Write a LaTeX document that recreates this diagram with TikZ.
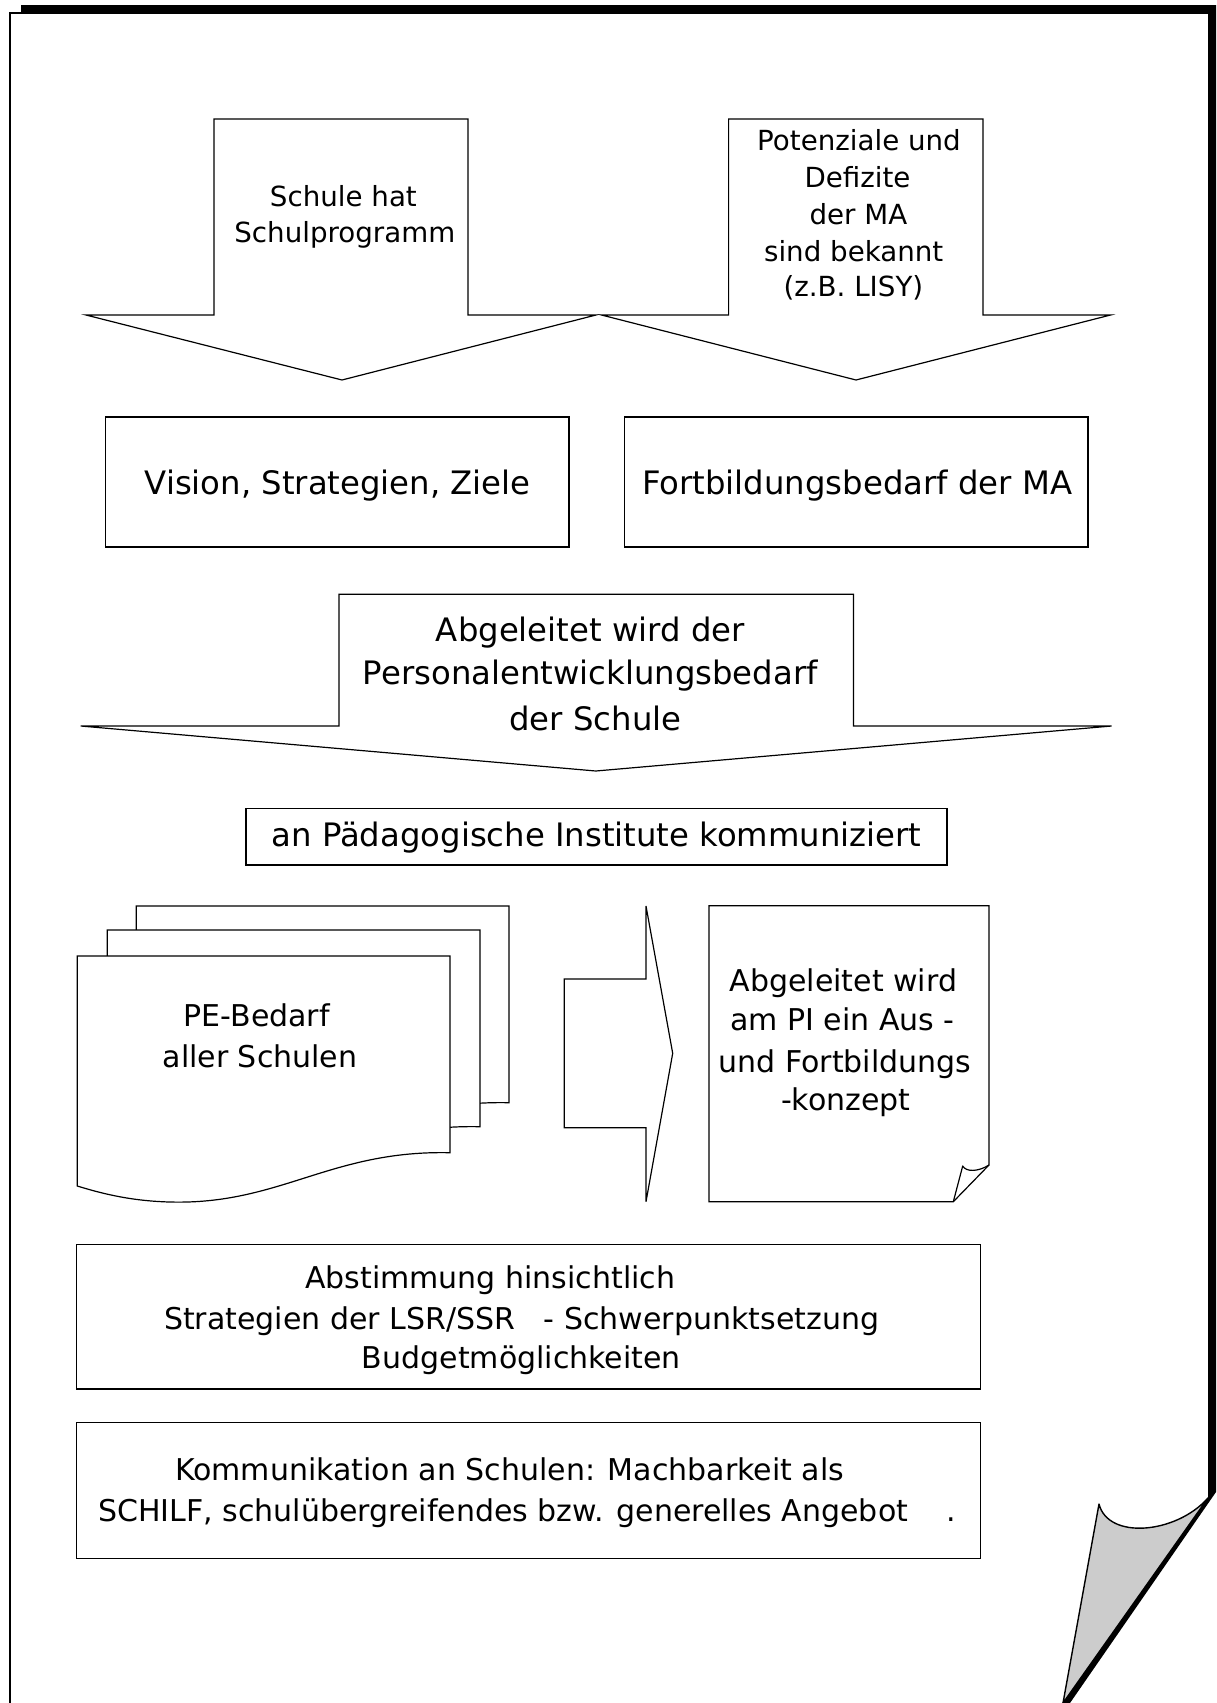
\documentclass[tikz,border=0pt]{standalone}
\usepackage{fontspec}
\setmainfont{DejaVu Sans}
\begin{document}
\begin{tikzpicture}[x=0.5pt,y=-0.5pt,
  outline/.style={draw=black, line width=0.6pt, fill=white, line join=miter},
  small/.style={font=\fontsize{13.85}{17}\selectfont, inner sep=0pt, anchor=base},
  medium/.style={font=\fontsize{15}{18}\selectfont, inner sep=0pt, anchor=base},
  large/.style={font=\fontsize{16.15}{20}\selectfont, inner sep=0pt, anchor=base},
]
\useasboundingbox (0,0) rectangle (1216,1703);
\clip (0,0) rectangle (1216,1703);

% sheet of paper with its drop shadow
\fill[black] (21,5) -- (1216,5) -- (1216,1492) -- (1070,1703) -- (21,1703) -- cycle;
\fill[white] (10,13) -- (1209,13) -- (1209,1497) -- (1063,1703) -- (10,1703) -- cycle;
\draw[line width=0.8pt] (10,1703) -- (10,13) -- (1209,13) -- (1209,1497) -- (1063,1703);
% curled corner
\filldraw[fill=black!20, line width=0.7pt, line join=round]
  (1099,1504) .. controls (1108,1540) and (1176,1534) .. (1208,1498) -- (1063,1703) -- cycle;

% two block arrows at the top
\draw[outline] (214,119) -- (468,119) -- (468,315) -- (596,315) -- (342,380)
  -- (86,315) -- (214,315) -- cycle;
\draw[outline] (728.6,119) -- (983,119) -- (983,315) -- (1110.6,315) -- (856,380)
  -- (601.5,315) -- (728.6,315) -- cycle;
\node[small] (schule1) at (343.4,206) {Schule hat};
\node[small] (schule2) at (344.8,242.7) {Schulprogramm};
\node[small] (pot1) at (859,150) {Potenziale und};
\node[small] (pot2) at (857.5,187.3) {Defizite};
\node[small] (pot3) at (858.4,224.3) {der MA};
\node[small] (pot4) at (853.7,261.7) {sind bekannt};
\node[small] (pot5) at (853.4,296.7) {(z.B. LISY)};

% two boxes
\draw[outline] (105.3,417) rectangle (569,547);
\draw[outline] (624.3,417) rectangle (1088,547);
\node[large] (vision) at (337.7,494) {Vision, Strategien, Ziele};
\node[large] (fbbedarf) at (857.2,494) {Fortbildungsbedarf der MA};

% wide block arrow
\draw[outline] (339,594.3) -- (853.4,594.3) -- (853.4,726) -- (1111.6,726) -- (595.8,771)
  -- (80.7,726) -- (339,726) -- cycle;
\node[large] (abg1) at (590.3,641.7) {Abgeleitet wird der};
\node[large] (abg2) at (590.3,684.5) {Personalentwicklungsbedarf};
\node[large] (abg3) at (595.4,730) {der Schule};

% institute box
\draw[outline] (246,808.3) rectangle (947,865);
\node[large] (pi) at (596.5,846.7) {an Pädagogische Institute kommuniziert};

% stack of documents
\foreach \dx/\dy in {59/-50, 30/-26, 0/0}{
  \begin{scope}[shift={(\dx,\dy)}]
    \draw[outline] (77.3,956) -- (450,956) -- (450,1152.7)
      .. controls (330,1150) and (280,1205) .. (170,1202)
      .. controls (130,1201) and (100,1193) .. (77.3,1186) -- cycle;
  \end{scope}
}
\node[medium] (pe1) at (256.7,1026.7) {PE-Bedarf};
\node[medium] (pe2) at (260,1067.7) {aller Schulen};

% block arrow to the right
\draw[outline] (564.3,979) -- (646,979) -- (646,906) -- (672.7,1053.3) -- (646,1201.7)
  -- (646,1127.7) -- (564.3,1127.7) -- cycle;

% note with folded corner
\draw[outline] (709,905.7) -- (989,905.7) -- (989,1165) -- (953.3,1201.7) -- (709,1201.7) -- cycle;
\draw[line width=0.6pt, line join=round] (953.3,1201.7) -- (962.7,1166)
  .. controls (966,1172) and (978,1172) .. (989,1165);
\node[medium] (konz1) at (843.3,991) {Abgeleitet wird};
\node[medium] (konz2) at (842.5,1030) {am PI ein Aus -};
\node[medium] (konz3) at (845,1072.7) {und Fortbildungs};
\node[medium] (konz4) at (845.8,1110) {-konzept};

% two wide boxes at the bottom
\draw[outline] (76.8,1244.3) rectangle (980.3,1389);
\node[medium] (abst1) at (490.1,1288.3) {Abstimmung hinsichtlich};
\node[medium] (abst2) at (521.6,1329) {Strategien der LSR/SSR~~~- Schwerpunktsetzung};
\node[medium] (abst3) at (521.4,1368.3) {Budgetmöglichkeiten};

\draw[outline] (76.8,1422.3) rectangle (980.3,1558.3);
\node[medium] (komm1) at (509.6,1480.7) {Kommunikation an Schulen: Machbarkeit als};
\node[medium] (komm2) at (527,1521.7) {SCHILF, schulübergreifendes bzw. generelles Angebot~~~~.};
\end{tikzpicture}
\end{document}
